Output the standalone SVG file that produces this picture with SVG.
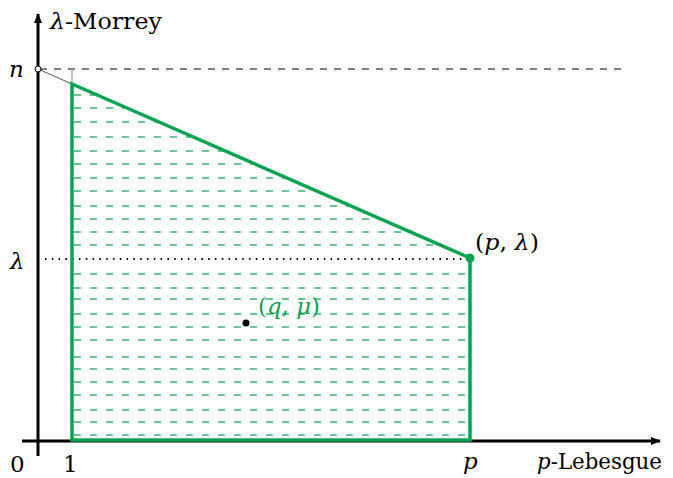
<svg xmlns="http://www.w3.org/2000/svg" width="673" height="478" viewBox="0 0 673 478">
<style>
text{font-family:'DejaVu Serif','Liberation Serif',serif;font-size:21px;fill:#000}
.it{font-style:italic}
.grid line{stroke:#33b56e;stroke-width:1.3;stroke-dasharray:7 9}
.axis{stroke:#000;stroke-width:3}
.green{stroke:#0aa350;stroke-width:3.5;fill:none}
</style>
<defs>
<marker id="ah" markerWidth="10" markerHeight="8" refX="9" refY="4" orient="auto" markerUnits="userSpaceOnUse">
<path d="M0,0 L10,4 L0,8 Z" fill="#000"/>
</marker>
<clipPath id="reg"><polygon points="72,84 470,258 470,440 72,440"/></clipPath>
</defs>
<g id="grid" class="grid" clip-path="url(#reg)">
<line x1="74" y1="95" x2="470" y2="95"/>
<line x1="74" y1="108" x2="470" y2="108"/>
<line x1="74" y1="122" x2="470" y2="122"/>
<line x1="74" y1="137" x2="470" y2="137"/>
<line x1="74" y1="151" x2="470" y2="151"/>
<line x1="74" y1="164" x2="470" y2="164"/>
<line x1="74" y1="178" x2="470" y2="178"/>
<line x1="74" y1="191" x2="470" y2="191"/>
<line x1="74" y1="206" x2="470" y2="206"/>
<line x1="74" y1="219" x2="470" y2="219"/>
<line x1="74" y1="232" x2="470" y2="232"/>
<line x1="74" y1="245" x2="470" y2="245"/>
<line x1="74" y1="274" x2="470" y2="274"/>
<line x1="74" y1="288" x2="470" y2="288"/>
<line x1="74" y1="299" x2="470" y2="299"/>
<line x1="74" y1="314" x2="470" y2="314"/>
<line x1="74" y1="327" x2="470" y2="327"/>
<line x1="74" y1="340" x2="470" y2="340"/>
<line x1="74" y1="357" x2="470" y2="357"/>
<line x1="74" y1="369" x2="470" y2="369"/>
<line x1="74" y1="382" x2="470" y2="382"/>
<line x1="74" y1="395" x2="470" y2="395"/>
<line x1="74" y1="410" x2="470" y2="410"/>
<line x1="74" y1="422" x2="470" y2="422"/>
<line x1="74" y1="435" x2="470" y2="435"/>
</g>
<g id="connectors">
<line x1="40" y1="69" x2="626" y2="69" stroke="#000" stroke-width="1" stroke-dasharray="7 7"/>
<line x1="45" y1="259" x2="470" y2="259" stroke="#000" stroke-width="2" stroke-dasharray="1.5 5.3"/>
<line x1="38" y1="69" x2="72" y2="84" stroke="#555" stroke-width="1"/>
<line x1="72" y1="69" x2="72" y2="84" stroke="#888" stroke-width="1"/>
<line class="axis" x1="38" y1="456" x2="38" y2="14" marker-end="url(#ah)"/>
<line class="axis" x1="22" y1="441" x2="660" y2="441" marker-end="url(#ah)"/>
</g>
<g id="region">
<polygon class="green" points="72,84 470,258 470,440 72,440"/>
</g>
<g id="n-point"><circle cx="38" cy="69" r="3" fill="#fff" stroke="#000" stroke-width="1"/></g>
<g id="p-lambda">
<circle cx="470" cy="258" r="4.5" fill="#0aa350"/>
<text x="475" y="250" textLength="64" lengthAdjust="spacingAndGlyphs" style="font-size:23px">(<tspan class="it">p</tspan>, <tspan class="it">λ</tspan>)</text>
</g>
<g id="q-mu">
<circle cx="246" cy="323" r="3.5" fill="#000"/>
<text x="258" y="314" textLength="62" lengthAdjust="spacingAndGlyphs" style="fill:#0aa350;font-size:23px">(<tspan class="it">q</tspan>, <tspan class="it">μ</tspan>)</text>
</g>
<g id="labels">
<text x="50" y="29" textLength="112" lengthAdjust="spacingAndGlyphs" style="font-size:23px"><tspan class="it">λ</tspan>-Morrey</text>
<text x="9" y="77" class="it" style="font-size:23px">n</text>
<text x="10" y="269" class="it" style="font-size:23px">λ</text>
<text x="10" y="472" style="font-size:23px">0</text>
<text x="63" y="472" style="font-size:23px">1</text>
<text x="463" y="469" class="it" style="font-size:23px">p</text>
<text x="537" y="469" textLength="125" lengthAdjust="spacingAndGlyphs" style="font-size:23px"><tspan class="it">p</tspan>-Lebesgue</text>
</g>
</svg>
